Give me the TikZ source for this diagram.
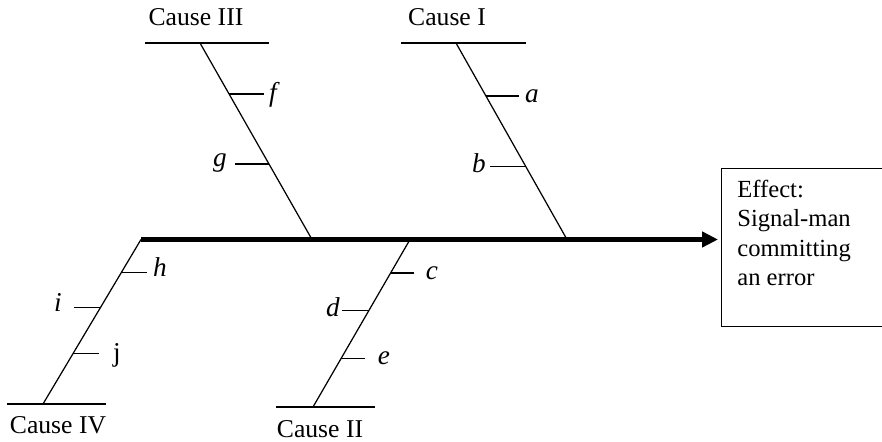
\documentclass[tikz,border=0pt]{standalone}
\usepackage{fontspec}
\setmainfont{Liberation Serif}
\usetikzlibrary{arrows.meta,calc}
\tikzset{
  bone/.style={line width=0.7pt, color=black},
  spine/.style={line width=2.8pt, -{Triangle[length=9pt,width=8.5pt]}},
  causelabel/.style={font=\fontsize{14.6}{17}\selectfont, anchor=base,
    inner sep=0pt},
  sublabel/.style={font=\fontsize{15.5}{18}\selectfont\itshape, anchor=mid,
    inner sep=0pt},
  effectbox/.style={rectangle, draw, line width=0.7pt, anchor=north west,
    minimum width=3.48cm, minimum height=3.16cm, inner sep=0pt},
  effecttext/.style={font=\fontsize{14}{16.6}\selectfont, align=left,
    anchor=north west, inner sep=0pt},
}

\begin{document}
\begin{tikzpicture}[x=0.02cm, y=-0.02cm]
  \useasboundingbox (0,0) rectangle (882,442);

  % effect
  \node[effectbox] (effect) at (721,168) {};
  \node[effecttext] (effectlabel) at (737,180)
    {Effect:\\Signal-man\\committing\\an error};
  \coordinate (tail) at (141,239.5);
  \draw[spine, shorten >=1.7pt] (tail) -- (tail -| effect.west);

  % cause I
  \coordinate (c1top) at (456,43);
  \coordinate (c1bot) at (567,239.5);
  \coordinate (c1left) at (401,43);
  \coordinate (c1right) at (526,43);
  \node[causelabel] (cause1) at (447,26) {Cause I};
  \draw[bone] (c1left) -- (c1right);
  \draw[bone] (c1top) -- (c1bot);
  \coordinate (ta) at ($(c1top)!0.27!(c1bot)$);
  \draw[bone] (ta) -- ++(33,0) coordinate (ta2);
  \node[sublabel] (la) at (532,98) {a};
  \coordinate (tb) at ($(c1top)!0.628!(c1bot)$);
  \draw[bone] (tb) -- ++(-36,0) coordinate (tb2);
  \node[sublabel] (lb) at (479,168) {b};

  % cause III
  \coordinate (c3top) at (200,43);
  \coordinate (c3bot) at (312,239.5);
  \coordinate (c3left) at (145,43);
  \coordinate (c3right) at (269,43);
  \node[causelabel] (cause3) at (196,26) {Cause III};
  \draw[bone] (c3left) -- (c3right);
  \draw[bone] (c3top) -- (c3bot);
  \coordinate (tf) at ($(c3top)!0.26!(c3bot)$);
  \draw[bone] (tf) -- ++(35,0) coordinate (tf2);
  \node[sublabel] (lf) at (273,97) {f};
  \coordinate (tg) at ($(c3top)!0.616!(c3bot)$);
  \draw[bone] (tg) -- ++(-34,0) coordinate (tg2);
  \node[sublabel] (lg) at (220,162) {g};

  % cause II
  \coordinate (c2top) at (410,239.5);
  \coordinate (c2bot) at (313,407);
  \coordinate (c2left) at (276,407);
  \coordinate (c2right) at (375,407);
  \node[causelabel] (cause2) at (320,437) {Cause II};
  \draw[bone] (c2left) -- (c2right);
  \draw[bone] (c2top) -- (c2bot);
  \coordinate (tc) at ($(c2top)!0.2!(c2bot)$);
  \draw[bone] (tc) -- ++(23,0) coordinate (tc2);
  \node[sublabel] (lc) at (432,275) {c};
  \coordinate (td) at ($(c2top)!0.423!(c2bot)$);
  \draw[bone] (td) -- ++(-27,0) coordinate (td2);
  \node[sublabel] (ld) at (333,312) {d};
  \coordinate (te) at ($(c2top)!0.712!(c2bot)$);
  \draw[bone] (te) -- ++(24,0) coordinate (te2);
  \node[sublabel] (le) at (384,360) {e};

  % cause IV
  \coordinate (c4top) at (141,239.5);
  \coordinate (c4bot) at (43,404);
  \coordinate (c4left) at (7,404);
  \coordinate (c4right) at (106,404);
  \node[causelabel] (cause4) at (58,433) {Cause IV};
  \draw[bone] (c4left) -- (c4right);
  \draw[bone] (c4top) -- (c4bot);
  \coordinate (th) at ($(c4top)!0.199!(c4bot)$);
  \draw[bone] (th) -- ++(26,0) coordinate (th2);
  \node[sublabel] (lh) at (160,272) {h};
  \coordinate (ti) at ($(c4top)!0.413!(c4bot)$);
  \draw[bone] (ti) -- ++(-27,0) coordinate (ti2);
  \node[sublabel] (li) at (58,307) {i};
  \coordinate (tj) at ($(c4top)!0.694!(c4bot)$);
  \draw[bone] (tj) -- ++(26,0) coordinate (tj2);
  \node[sublabel, font=\fontsize{15.5}{18}\selectfont\upshape] (lj) at (117,357) {j};
\end{tikzpicture}
\end{document}
